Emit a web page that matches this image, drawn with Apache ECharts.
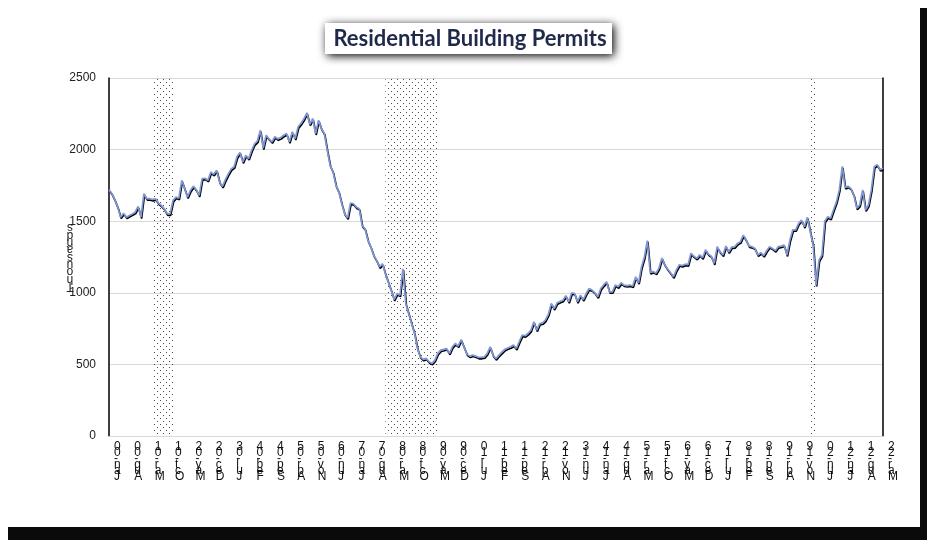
<!DOCTYPE html>
<html>
<head>
<meta charset="utf-8">
<script src="https://cdn.jsdelivr.net/npm/echarts@6/dist/echarts.min.js"></script>
<style>html,body{margin:0;padding:0;background:#fff;}#chart{width:927px;height:540px;}</style>
</head>
<body>
<div id="chart"></div>
<script>
// ---- data ----
var titleText = 'Residential Building Permits';
var yAxisName = 'Thousands';
var startYear = 2000, startMonth = 0; // Jan-2000
var monthNames = ['Jan','Feb','Mar','Apr','May','Jun','Jul','Aug','Sep','Oct','Nov','Dec'];
var yTicks = [0, 500, 1000, 1500, 2000, 2500];
// Building permits, thousands (SAAR), Jan-00 .. Mar-22
var permits2000_2005 = [
 1720,1692,1650,1598,1528,1556,1528,1540,1551,1563,1603,1528,
 1692,1657,1657,1652,1657,1626,1610,1586,1551,1551,1645,1668,
 1660,1785,1727,1668,1716,1745,1720,1680,1797,1800,1785,1843,
 1827,1855,1773,1743,1790,1830,1865,1880,1950,1980,1914,1960,
 1937,1995,2040,2060,2135,2010,2100,2075,2054,2090,2075,2084,
 2100,2112,2054,2124,2077,2159,2184,2215,2257,2177,2217,2112
];
var permits2006_2011 = [
 2205,2147,2112,1995,1890,1844,1750,1704,1622,1552,1523,1627,
 1622,1599,1587,1470,1447,1366,1319,1261,1226,1180,1203,1133,
 1075,1017,953,995,983,1168,925,855,785,716,611,553,
 535,542,518,507,530,577,600,605,611,577,623,646,
 628,674,623,572,558,565,558,549,549,553,577,623,
 563,540,565,585,605,615,623,635,611,660,704,700
];
var permits2012_2017 = [
 716,739,797,739,785,790,810,850,925,890,930,940,
 948,980,937,1000,995,937,983,953,995,1030,1019,1000,
 972,1030,1055,1077,1007,1007,1054,1042,1070,1054,1050,1054,
 1047,1112,1070,1180,1250,1365,1142,1149,1137,1172,1243,1196,
 1166,1140,1112,1160,1196,1190,1200,1196,1276,1256,1240,1265,
 1245,1300,1270,1255,1205,1322,1287,1264,1326,1285,1320,1322
];
var permits2018_2022 = [
 1345,1357,1403,1368,1326,1322,1310,1264,1280,1260,1294,1322,
 1310,1294,1322,1326,1333,1264,1368,1440,1440,1485,1508,1462,
 1527,1427,1330,1054,1228,1264,1500,1531,1520,1580,1635,1720,
 1883,1735,1744,1727,1681,1590,1613,1718,1578,1613,1720,1880,
 1895,1860,1870
];
var permits = permits2000_2005.concat(permits2006_2011, permits2012_2017, permits2018_2022);
var recessions = [['Apr-01','Nov-01'], ['Dec-07','Jun-09'], ['Feb-20','Apr-20']];

var categories = [];
for (var k = 0; k < permits.length; k++) {
  var m = (startMonth + k) % 12, y = startYear + Math.floor((startMonth + k) / 12);
  categories.push(monthNames[m] + '-' + String(y % 100).padStart(2, '0'));
}

// dotted pattern for recession shading
var pc = document.createElement('canvas');
pc.width = 6; pc.height = 6;
var pctx = pc.getContext('2d');
pctx.fillStyle = 'rgba(0,0,0,0.7)';
pctx.fillRect(1, 1, 1, 1);
pctx.fillRect(4, 4, 1, 1);

var chart = echarts.init(document.getElementById('chart'), null, {renderer: 'canvas'});
var option = {
  backgroundColor: '#fff',
  animation: false,
  graphic: [
    {type: 'rect', z: -10, shape: {x: 8, y: 8, width: 919, height: 532}, style: {fill: '#0a0a0a'}},
    {type: 'rect', z: -9, shape: {x: 0, y: 0, width: 920, height: 527}, style: {fill: '#fff'}},
    {type: 'rect', z: 10, shape: {x: 325, y: 23, width: 287, height: 31},
      style: {fill: '#fff', shadowColor: 'rgba(0,0,0,1)', shadowBlur: 10, shadowOffsetX: 2, shadowOffsetY: 2}},
    {type: 'text', z: 11, x: 470, y: 39,
      style: {text: titleText, fill: '#1f2a4a', font: 'bold 22px Lato, "Open Sans", sans-serif',
        textAlign: 'center', textVerticalAlign: 'middle'}},
    {type: 'text', z: 11, x: 70, y: 257, rotation: Math.PI,
      style: {text: yAxisName.split('').join('\n'), fill: '#222', fontSize: 12, lineHeight: 7.3,
        fontFamily: '"Liberation Sans", sans-serif', textAlign: 'center', textVerticalAlign: 'middle'}}
  ],
  grid: {left: 109, right: 44, top: 78, bottom: 104, containLabel: false},
  xAxis: {
    type: 'category', data: categories, boundaryGap: false,
    axisLine: {show: true, lineStyle: {color: '#d9d9d9', width: 1}},
    axisTick: {show: false},
    axisLabel: {
      interval: 6, margin: 8, color: '#111', fontSize: 12, lineHeight: 6,
      showMinLabel: true, showMaxLabel: true, hideOverlap: false,
      fontFamily: '"Liberation Sans", sans-serif', align: 'left', verticalAlign: 'top',
      padding: [0, 0, 0, 5],
      formatter: function (v) { return v.split('').reverse().join('\n'); }
    },
    splitLine: {show: false}
  },
  yAxis: [{
    type: 'value', min: yTicks[0], max: yTicks[yTicks.length - 1], interval: yTicks[1] - yTicks[0],
    axisLine: {show: true, lineStyle: {color: '#000', width: 1.5}},
    axisTick: {show: false},
    axisLabel: {color: '#222', fontSize: 12, margin: 13, fontFamily: '"Liberation Sans", sans-serif',
      formatter: function (v) { return String(v); }},
    splitLine: {show: true, lineStyle: {color: '#d9d9d9', width: 1.2}}
  }, {
    type: 'value', position: 'right', min: yTicks[0], max: yTicks[yTicks.length - 1], interval: yTicks[1] - yTicks[0],
    axisLine: {show: true, lineStyle: {color: '#000', width: 1.5}},
    axisTick: {show: false}, axisLabel: {show: false}, splitLine: {show: false}
  }],
  series: [{
    type: 'line', data: permits, showSymbol: false, symbol: 'none',
    lineStyle: {color: '#8096d6', width: 1.7, shadowColor: '#000', shadowBlur: 0, shadowOffsetX: 0.6, shadowOffsetY: 1.4},
    markArea: {
      silent: true,
      itemStyle: {color: {image: pc, repeat: 'repeat'}},
      data: recessions.map(function (r) { return [{xAxis: r[0]}, {xAxis: r[1]}]; })
    }
  }]
};
chart.setOption(option);
</script>
</body>
</html>
